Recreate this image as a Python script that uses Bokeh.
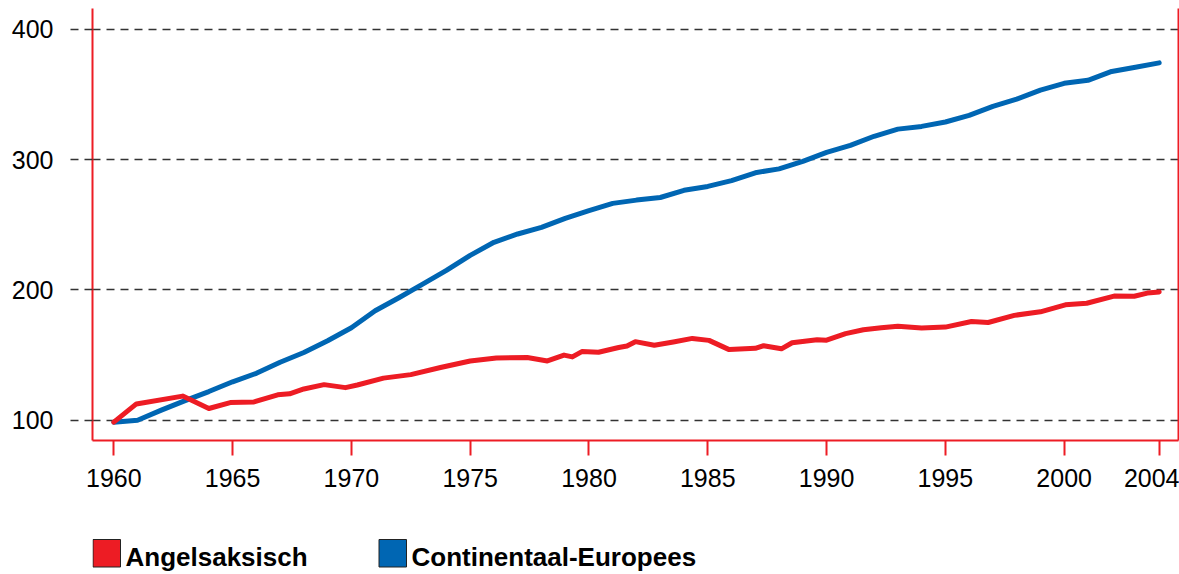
from bokeh.plotting import figure
from bokeh.models import Range1d, FixedTicker, LinearAxis
from bokeh.layouts import column
from bokeh.core.properties import value
from bokeh.embed import file_html
from bokeh.resources import INLINE

# ---------------- data ----------------
x_ticks = [1960, 1965, 1970, 1975, 1980, 1985, 1990, 1995, 2000, 2004]
y_ticks = [100, 200, 300, 400]

series_names = ["Angelsaksisch", "Continentaal-Europees"]

anglo_x = [1960.0, 1960.95, 1962.9, 1964.0, 1964.9, 1965.9, 1966.9, 1967.4, 1968.0,
           1968.85, 1969.75, 1970.25, 1971.35, 1972.5, 1973.75, 1975.0, 1976.1,
           1977.4, 1978.25, 1978.95, 1979.3, 1979.7, 1980.4, 1981.25, 1981.6,
           1981.95, 1982.75, 1983.55, 1984.35, 1985.05, 1985.9, 1987.0, 1987.35,
           1988.1, 1988.55, 1989.6, 1990.0, 1990.8, 1991.55, 1992.3, 1993.0,
           1994.0, 1995.0, 1996.1, 1996.8, 1997.9, 1999.0, 2000.05, 2000.95,
           2002.1, 2002.95, 2003.5, 2004.0]
anglo_y = [98.5, 112.5, 118.5, 109.0, 113.5, 114.0, 119.5, 120.3, 124.0,
           127.3, 125.0, 127.0, 132.3, 135.0, 140.5, 145.5, 147.8,
           148.2, 145.5, 150.0, 148.6, 152.7, 152.2, 155.8, 157.0,
           160.3, 157.5, 160.0, 162.8, 161.3, 154.2, 155.2, 157.2,
           154.8, 159.5, 161.8, 161.4, 166.5, 169.5, 171.0, 172.2,
           170.8, 171.5, 175.8, 175.0, 180.5, 183.2, 188.6, 189.8,
           195.3, 195.2, 197.6, 198.5]

conti_x = [1960, 1961, 1962, 1963, 1964, 1965, 1966, 1967, 1968, 1969, 1970,
           1971, 1972, 1973, 1974, 1975, 1976, 1977, 1978, 1979, 1980, 1981,
           1982, 1983, 1984, 1985, 1986, 1987, 1988, 1989, 1990, 1991, 1992,
           1993, 1994, 1995, 1996, 1997, 1998, 1999, 2000, 2001, 2002, 2003, 2004]
conti_y = [98.5, 100.0, 107.7, 115.0, 122.0, 129.5, 136.0, 144.5, 152.0, 161.0,
           171.0, 184.0, 194.0, 204.5, 215.0, 226.6, 236.6, 243.0, 248.0, 255.0,
           261.0, 266.5, 269.0, 271.0, 276.5, 279.5, 284.0, 290.0, 293.0, 298.7,
           305.6, 311.0, 318.0, 323.5, 325.6, 329.0, 334.0, 341.0, 346.5, 353.5,
           358.7, 361.0, 367.8, 371.0, 374.4]

RED = "#ED1C24"
BLUE = "#0066B3"
FONT = "Liberation Sans"
GRID = "#333333"

# ---------------- main chart ----------------
p = figure(width=1179, height=520, output_backend="svg", toolbar_location=None,
           x_range=Range1d(1959.1035, 2004.812), y_range=Range1d(84.41, 416.125),
           min_border_left=92, min_border_right=1, min_border_top=8,
           min_border_bottom=80)
p.outline_line_color = None
p.background_fill_color = "white"
p.border_fill_color = "white"

xa = p.xaxis[0]
xa.ticker = FixedTicker(ticks=x_ticks)
xa.axis_line_color = RED
xa.axis_line_width = 2
xa.major_tick_line_color = RED
xa.major_tick_line_width = 2
xa.major_tick_out = 15
xa.major_tick_in = 0
xa.minor_tick_line_color = None
xa.major_label_text_font = FONT
xa.major_label_text_font_size = "25px"
xa.major_label_text_color = "black"
xa.major_label_standoff = 13

ya = p.yaxis[0]
ya.ticker = FixedTicker(ticks=y_ticks)
ya.axis_line_color = RED
ya.axis_line_width = 2
ya.major_tick_line_color = GRID
ya.major_tick_line_width = 1.4
ya.major_tick_line_dash = "8 6"
ya.major_tick_out = 22
ya.major_tick_in = 0
ya.minor_tick_line_color = None
ya.major_label_text_font = FONT
ya.major_label_text_font_size = "25px"
ya.major_label_text_color = "black"
ya.major_label_standoff = 17

# right frame line
ra = LinearAxis(ticker=FixedTicker(ticks=[]))
ra.axis_line_color = RED
ra.axis_line_width = 2
ra.major_tick_out = 0
ra.major_tick_in = 0
ra.major_label_standoff = 0
ra.major_label_text_font_size = "0px"
ra.minor_tick_line_color = None
p.add_layout(ra, "right")

p.xgrid.visible = False
p.ygrid.ticker = FixedTicker(ticks=y_ticks)
p.ygrid.grid_line_color = GRID
p.ygrid.grid_line_width = 1.4
p.ygrid.grid_line_dash = "8 6"

p.line(conti_x, conti_y, line_color=BLUE, line_width=5,
       line_join="round", line_cap="round")
p.line(anglo_x, anglo_y, line_color=RED, line_width=5,
       line_join="round", line_cap="round")

# ---------------- legend strip (pixel coordinates, frame aligned with chart) ----------------
lg = figure(width=1179, height=54, output_backend="svg", toolbar_location=None,
            x_range=Range1d(92, 1178), y_range=Range1d(54, 0),
            min_border_left=92, min_border_right=1, min_border_top=0,
            min_border_bottom=0, x_axis_type=None, y_axis_type=None)
lg.outline_line_color = None
lg.xgrid.visible = False
lg.ygrid.visible = False
lg.border_fill_color = "white"

lg.quad(left=[92.5, 378.5], right=[120, 406], top=[19, 19], bottom=[46.5, 46.5],
        fill_color=[RED, BLUE], line_color="#222222", line_width=1)
lg.text(x=[125, 411], y=[36.5, 36.5], text=series_names,
        text_font=value(FONT), text_font_size=value("26px"),
        text_font_style="bold", text_color="black",
        text_baseline="alphabetic", text_align="left")

layout = column(p, lg, spacing=0)
open("out.html", "w").write(file_html(layout, INLINE))
